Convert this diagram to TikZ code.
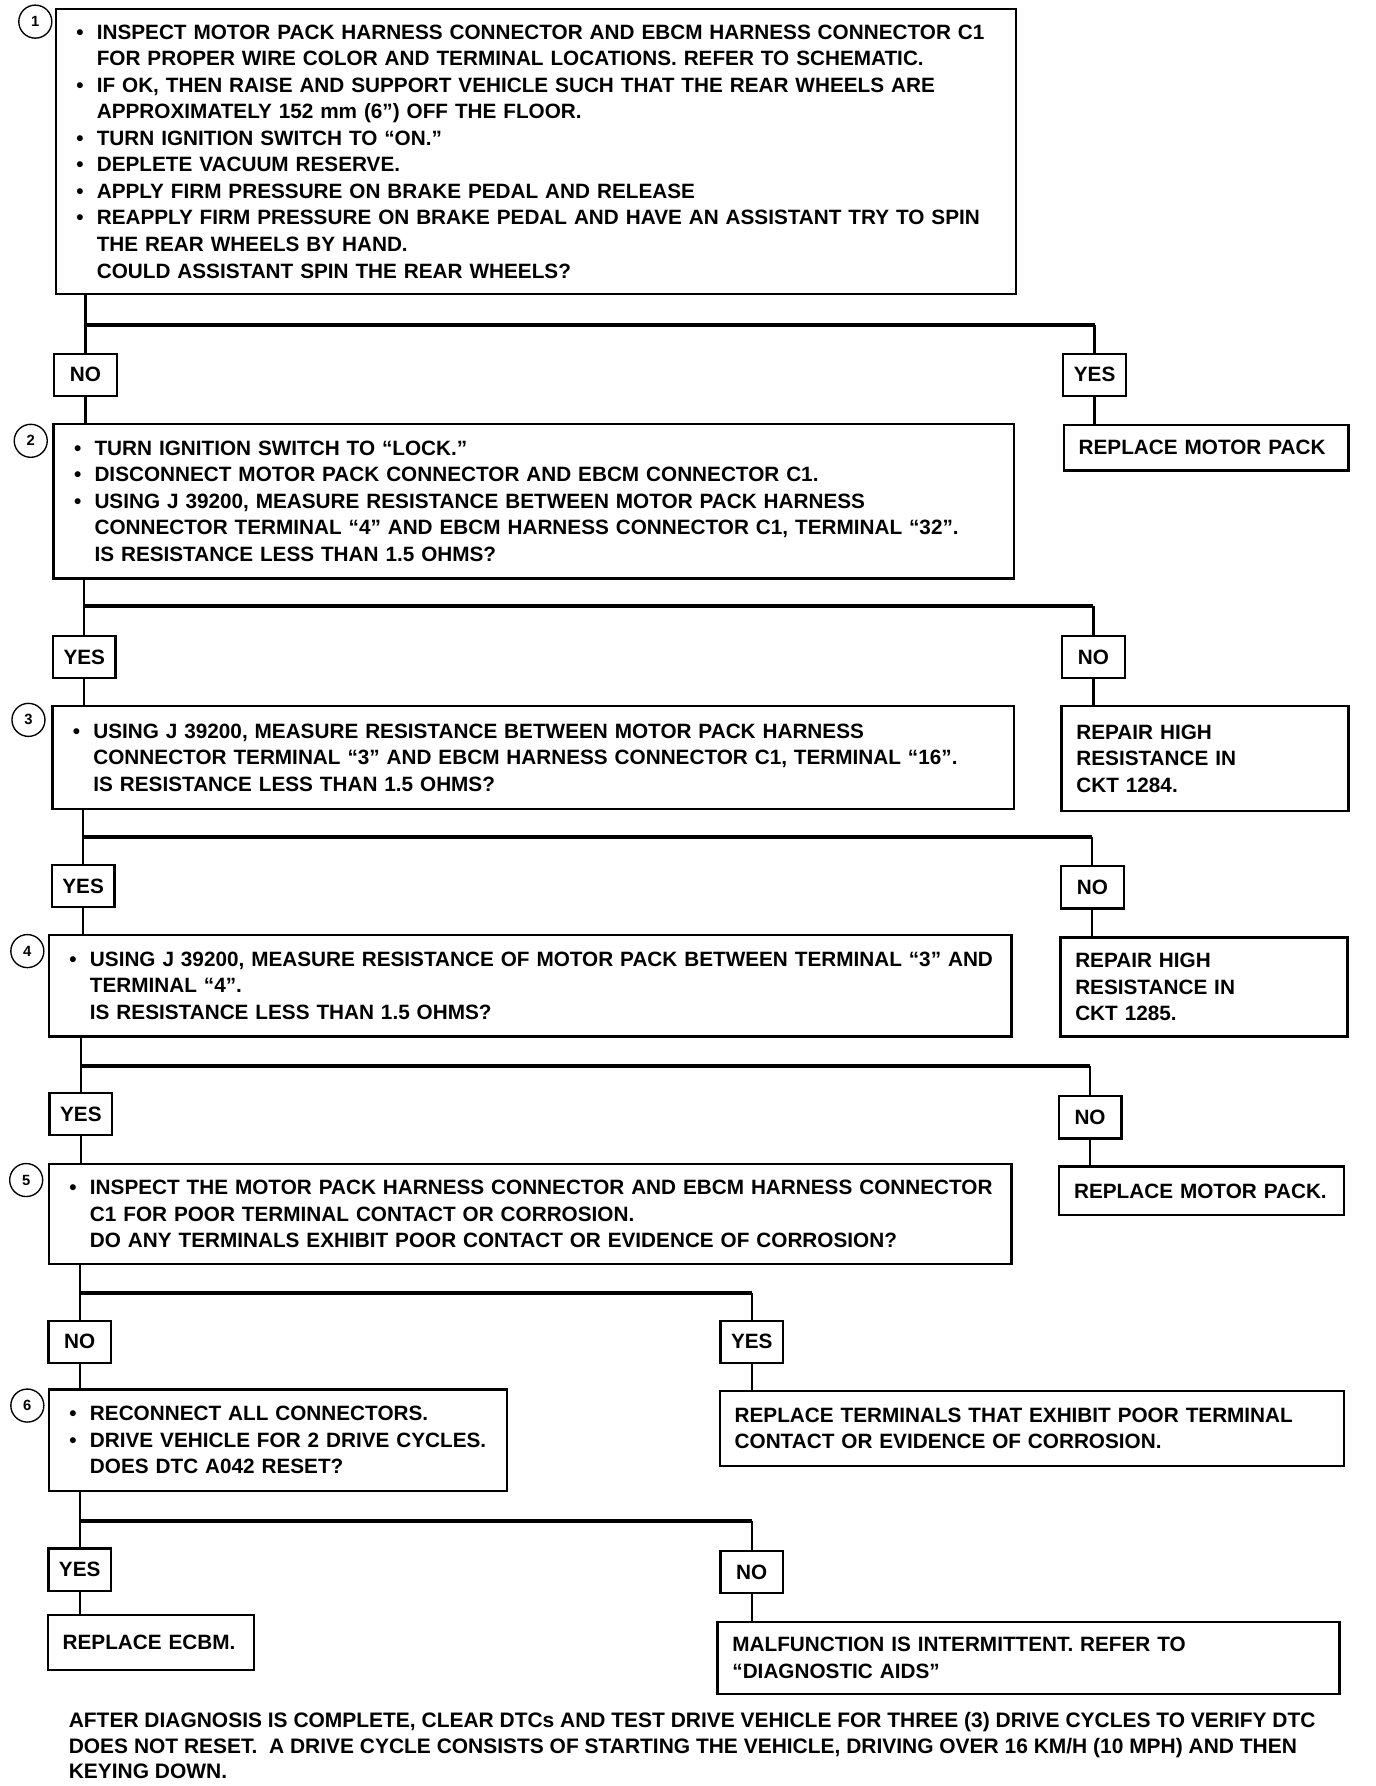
\documentclass[tikz,border=0pt]{standalone}
\usepackage{fontspec}
\setmainfont{Liberation Sans}
\newcommand\bl[1]{\mbox{\makebox[9pt][l]{\textbullet}#1}}
\newcommand\il[1]{\mbox{\hspace*{9pt}#1}}
\newcommand\oneline[1]{\mbox{#1}}
\tikzset{
  txt/.style={font=\fontsize{9.1}{11.65}\selectfont\bfseries},
  stepbox/.style={draw, line width=1pt, txt, align=left, inner xsep=9pt, inner ysep=0pt},
  resbox/.style={draw, line width=1pt, txt, align=left, inner xsep=6.5pt, inner ysep=0pt},
  yn/.style={draw, line width=1pt, txt, minimum width=27.5pt, minimum height=18.5pt, inner sep=0pt},
  numc/.style={circle, draw, line width=0.6pt, minimum size=14.5pt, inner sep=0pt, font=\fontsize{6.5}{6.5}\selectfont\bfseries},
  conn/.style={line width=1pt},
  branch/.style={line width=1.8pt},
}
\begin{document}
\begin{tikzpicture}[x=0.5pt, y=-0.5pt]
\useasboundingbox (0,0) rectangle (1208,1568);
% step boxes
\node[stepbox, minimum width=421.5pt, minimum height=125pt, text width=403.5pt] (b1) at (470.5,133) {%
\bl{INSPECT MOTOR PACK HARNESS CONNECTOR AND EBCM HARNESS CONNECTOR C1}\\
\il{FOR PROPER WIRE COLOR AND TERMINAL LOCATIONS. REFER TO SCHEMATIC.}\\
\bl{IF OK, THEN RAISE AND SUPPORT VEHICLE SUCH THAT THE REAR WHEELS ARE}\\
\il{APPROXIMATELY 152 mm (6”) OFF THE FLOOR.}\\
\bl{TURN IGNITION SWITCH TO “ON.”}\\
\bl{DEPLETE VACUUM RESERVE.}\\
\bl{APPLY FIRM PRESSURE ON BRAKE PEDAL AND RELEASE}\\
\bl{REAPPLY FIRM PRESSURE ON BRAKE PEDAL AND HAVE AN ASSISTANT TRY TO SPIN}\\
\il{THE REAR WHEELS BY HAND.}\\
\il{COULD ASSISTANT SPIN THE REAR WHEELS?}};
\node[stepbox, minimum width=421.5pt, minimum height=68pt, text width=403.5pt] (b2) at (468.5,440) {%
\bl{TURN IGNITION SWITCH TO “LOCK.”}\\
\bl{DISCONNECT MOTOR PACK CONNECTOR AND EBCM CONNECTOR C1.}\\
\bl{USING J 39200, MEASURE RESISTANCE BETWEEN MOTOR PACK HARNESS}\\
\il{CONNECTOR TERMINAL “4” AND EBCM HARNESS CONNECTOR C1, TERMINAL “32”.}\\
\il{IS RESISTANCE LESS THAN 1.5 OHMS?}};
\node[stepbox, minimum width=422pt, minimum height=45pt, text width=404pt] (b3) at (468,665) {%
\bl{USING J 39200, MEASURE RESISTANCE BETWEEN MOTOR PACK HARNESS}\\
\il{CONNECTOR TERMINAL “3” AND EBCM HARNESS CONNECTOR C1, TERMINAL “16”.}\\
\il{IS RESISTANCE LESS THAN 1.5 OHMS?}};
\node[stepbox, minimum width=422.5pt, minimum height=44.5pt, text width=404.5pt] (b4) at (465.5,865.5) {%
\bl{USING J 39200, MEASURE RESISTANCE OF MOTOR PACK BETWEEN TERMINAL “3” AND}\\
\il{TERMINAL “4”.}\\
\il{IS RESISTANCE LESS THAN 1.5 OHMS?}};
\node[stepbox, minimum width=422.5pt, minimum height=44pt, text width=404.5pt] (b5) at (465.5,1066) {%
\bl{INSPECT THE MOTOR PACK HARNESS CONNECTOR AND EBCM HARNESS CONNECTOR}\\
\il{C1 FOR POOR TERMINAL CONTACT OR CORROSION.}\\
\il{DO ANY TERMINALS EXHIBIT POOR CONTACT OR EVIDENCE OF CORROSION?}};
\node[stepbox, minimum width=201pt, minimum height=44.5pt, text width=183pt] (b6) at (244,1264.5) {%
\bl{RECONNECT ALL CONNECTORS.}\\
\bl{DRIVE VEHICLE FOR 2 DRIVE CYCLES.}\\
\il{DOES DTC A042 RESET?}};
% number circles
\node[numc] (c1) at (31,19) {1};
\node[numc] (c2) at (27,387) {2};
\node[numc] (c3) at (25,632) {3};
\node[numc] (c4) at (24,835) {4};
\node[numc] (c5) at (23,1036) {5};
\node[numc] (c6) at (24,1234) {6};
% result boxes
\node[resbox, minimum width=125pt, minimum height=20pt, text width=112pt] (r1) at (1059,393) {\oneline{REPLACE MOTOR PACK}};
\node[resbox, minimum width=126pt, minimum height=46pt, text width=113pt] (r2) at (1058,666) {REPAIR HIGH\\ RESISTANCE IN\\ CKT 1284.};
\node[resbox, minimum width=126pt, minimum height=43.5pt, text width=113pt] (r3) at (1057,866.5) {REPAIR HIGH\\ RESISTANCE IN\\ CKT 1285.};
\node[resbox, minimum width=125pt, minimum height=21.5pt, text width=112pt] (r4) at (1055,1045.5) {\oneline{REPLACE MOTOR PACK.}};
\node[resbox, minimum width=274pt, minimum height=33pt, text width=261pt] (r5) at (906,1254) {\oneline{REPLACE TERMINALS THAT EXHIBIT POOR TERMINAL}\\ \oneline{CONTACT OR EVIDENCE OF CORROSION.}};
\node[resbox, minimum width=90.5pt, minimum height=24pt, text width=77.5pt] (r6) at (132.5,1442) {\oneline{REPLACE ECBM.}};
\node[resbox, minimum width=273pt, minimum height=31.5pt, text width=260pt] (r7) at (903,1455.5) {\oneline{MALFUNCTION IS INTERMITTENT. REFER TO}\\ \oneline{“DIAGNOSTIC AIDS”}};
% yes/no boxes
\node[yn] (n1) at (75,329) {NO};
\node[yn] (y1) at (961,329) {YES};
\node[yn] (y2) at (74,577) {YES};
\node[yn] (n2) at (960,577) {NO};
\node[yn] (y3) at (73,778) {YES};
\node[yn] (n3) at (959,779) {NO};
\node[yn] (y4) at (71,978) {YES};
\node[yn] (n4) at (957,981) {NO};
\node[yn] (n5) at (70,1178) {NO};
\node[yn] (y5) at (660,1178) {YES};
\node[yn] (y6) at (70,1378) {YES};
\node[yn] (n6) at (660,1380) {NO};
% branch levels
\coordinate (k1) at (0,285);
\coordinate (k2) at (0,532);
\coordinate (k3) at (0,735);
\coordinate (k4) at (0,936);
\coordinate (k5) at (0,1135);
\coordinate (k6) at (0,1335);
% connectors step 1
\draw[conn] (n1 |- b1.south) -- (n1.north);
\draw[branch] (n1 |- k1) -- (y1 |- k1);
\draw[conn] (y1 |- k1) -- (y1.north);
\draw[conn] (n1.south) -- (n1 |- b2.north);
\draw[conn] (y1.south) -- (y1 |- r1.north);
% step 2
\draw[conn] (y2 |- b2.south) -- (y2.north);
\draw[branch] (y2 |- k2) -- (n2 |- k2);
\draw[conn] (n2 |- k2) -- (n2.north);
\draw[conn] (y2.south) -- (y2 |- b3.north);
\draw[conn] (n2.south) -- (n2 |- r2.north);
% step 3
\draw[conn] (y3 |- b3.south) -- (y3.north);
\draw[branch] (y3 |- k3) -- (n3 |- k3);
\draw[conn] (n3 |- k3) -- (n3.north);
\draw[conn] (y3.south) -- (y3 |- b4.north);
\draw[conn] (n3.south) -- (n3 |- r3.north);
% step 4
\draw[conn] (y4 |- b4.south) -- (y4.north);
\draw[branch] (y4 |- k4) -- (n4 |- k4);
\draw[conn] (n4 |- k4) -- (n4.north);
\draw[conn] (y4.south) -- (y4 |- b5.north);
\draw[conn] (n4.south) -- (n4 |- r4.north);
% step 5
\draw[conn] (n5 |- b5.south) -- (n5.north);
\draw[branch] (n5 |- k5) -- (y5 |- k5);
\draw[conn] (y5 |- k5) -- (y5.north);
\draw[conn] (n5.south) -- (n5 |- b6.north);
\draw[conn] (y5.south) -- (y5 |- r5.north);
% step 6
\draw[conn] (y6 |- b6.south) -- (y6.north);
\draw[branch] (y6 |- k6) -- (n6 |- k6);
\draw[conn] (n6 |- k6) -- (n6.north);
\draw[conn] (y6.south) -- (y6 |- r6.north);
\draw[conn] (n6.south) -- (n6 |- r7.north);
% footer
\node[anchor=north west, inner sep=0pt, align=left, font=\fontsize{9.2}{11.25}\selectfont\bfseries] (foot) at (60,1503) {%
AFTER DIAGNOSIS IS COMPLETE, CLEAR DTCs AND TEST DRIVE VEHICLE FOR THREE (3) DRIVE CYCLES TO VERIFY DTC\\
DOES NOT RESET.\ \ A DRIVE CYCLE CONSISTS OF STARTING THE VEHICLE, DRIVING OVER 16 KM/H (10 MPH) AND THEN\\
KEYING DOWN.};
\end{tikzpicture}
\end{document}
